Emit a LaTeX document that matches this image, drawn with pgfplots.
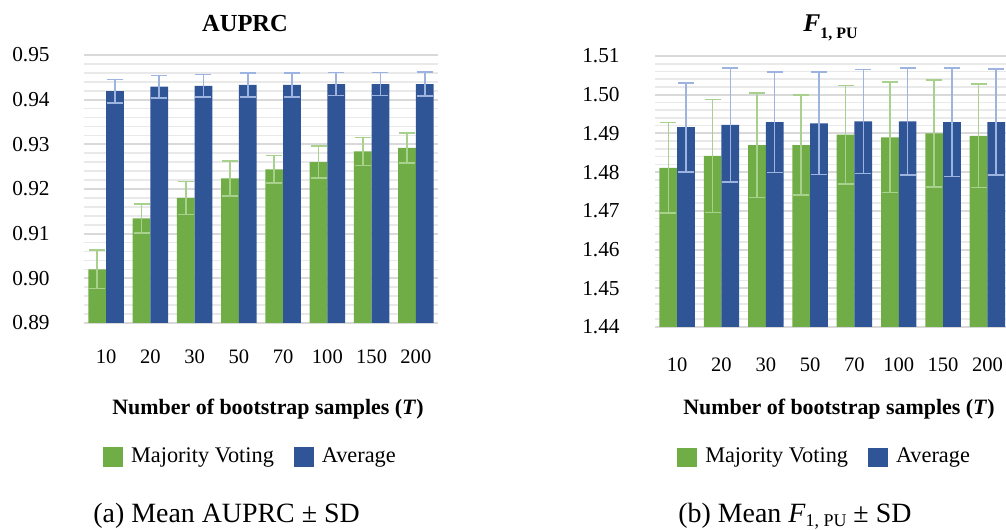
\documentclass[border=0pt]{standalone}
\usepackage{fontspec}
\setmainfont{Liberation Serif}
\usepackage{pgfplots}
\pgfplotsset{compat=1.18}

\definecolor{mvgreen}{HTML}{70AD47}
\definecolor{avblue}{HTML}{2F5597}
\definecolor{errgreen}{HTML}{A9D18E}
\definecolor{errblue}{HTML}{9DB3E0}
\definecolor{gridmajor}{HTML}{D9D9D9}
\definecolor{gridminor}{HTML}{E9E9E9}

\pgfplotsset{
  bootstrap/.style={
    ybar, scale only axis,
    xmin=-0.5,
    xtick={0,...,7},
    xticklabels={10,20,30,50,70,100,150,200},
    axis line style={draw=none},
    major tick length=0pt, minor tick length=0pt,
    ymajorgrids, yminorgrids, minor y tick num=4,
    major grid style={color=gridmajor, line width=1bp},
    minor grid style={color=gridminor, line width=0.8bp},
    /pgf/number format/.cd, fixed, fixed zerofill, precision=2, assume math mode=true,
    /pgfplots/.cd,
    yticklabel style={font=\fontsize{10.7}{12}\selectfont, anchor=east, inner sep=0pt},
    xticklabel style={font=\fontsize{10.3}{12}\selectfont, anchor=north, inner sep=0pt},
    legend style={draw=none, fill=none, anchor=center, inner sep=0pt,
      font=\fontsize{11.2}{13}\selectfont,
      /tikz/every odd column/.append style={column sep=2bp},
      /tikz/every even column/.append style={column sep=8bp}},
    legend columns=2,
  },
  mvbar/.style={fill=mvgreen, draw=none, bar width=0.4, bar shift=-0.2,
    error bars/.cd, y dir=both, y explicit,
    error bar style={color=errgreen, line width=0.8bp},
    error mark options={rotate=90, color=errgreen, line width=0.8bp, mark size=4bp},
    /pgfplots/.cd,
    legend image code/.code={\fill[mvgreen] (0bp,-4.75bp) rectangle (10bp,4.75bp);}},
  avbar/.style={fill=avblue, draw=none, bar width=0.4, bar shift=0.2,
    error bars/.cd, y dir=both, y explicit,
    error bar style={color=errblue, line width=0.8bp},
    error mark options={rotate=90, color=errblue, line width=0.8bp, mark size=4bp},
    /pgfplots/.cd,
    legend image code/.code={\fill[avblue] (0bp,-4.75bp) rectangle (10bp,4.75bp);}},
}

\begin{document}
\begin{tikzpicture}
\path[use as bounding box] (0bp,0bp) rectangle (503bp,265bp);

% (a) AUPRC
\begin{axis}[bootstrap,
  at={(42bp,103.5bp)}, anchor=south west,
  width=177bp, height=134bp,
  xmax=7.5,
  ymin=0.89, ymax=0.95,
  ytick={0.89,0.90,0.91,0.92,0.93,0.94,0.95},
  yticklabel style={xshift=-17bp},
  xticklabel style={yshift=-13bp},
  legend style={at={(0.473,-0.5)}},
]
\addplot[mvbar] coordinates {
  (0,0.9020) +- (0,0.0043)
  (1,0.9134) +- (0,0.0032)
  (2,0.9180) +- (0,0.0037)
  (3,0.9224) +- (0,0.0039)
  (4,0.9244) +- (0,0.0031)
  (5,0.9260) +- (0,0.0036)
  (6,0.9284) +- (0,0.0031)
  (7,0.9292) +- (0,0.0034)
};
\addplot[avbar] coordinates {
  (0,0.9419) +- (0,0.0026)
  (1,0.9429) +- (0,0.0025)
  (2,0.9431) +- (0,0.0025)
  (3,0.9433) +- (0,0.0027)
  (4,0.9433) +- (0,0.0027)
  (5,0.9435) +- (0,0.0026)
  (6,0.9435) +- (0,0.0026)
  (7,0.9435) +- (0,0.0027)
};
\legend{Majority Voting, Average}
\end{axis}

% (b) F1,PU
\begin{axis}[bootstrap,
  at={(327.5bp,101.5bp)}, anchor=south west,
  width=175.5bp, height=135.5bp,
  xmax=7.42,
  ymin=1.44, ymax=1.51,
  ytick={1.44,1.45,1.46,1.47,1.48,1.49,1.50,1.51},
  yticklabel style={xshift=-17.5bp},
  xticklabel style={yshift=-15bp},
  legend style={at={(0.486,-0.48)}},
]
\addplot[mvbar] coordinates {
  (0,1.4811) +- (0,0.0117)
  (1,1.4842) +- (0,0.0146)
  (2,1.4870) +- (0,0.0135)
  (3,1.4870) +- (0,0.0129)
  (4,1.4897) +- (0,0.0127)
  (5,1.4890) +- (0,0.0143)
  (6,1.4900) +- (0,0.0138)
  (7,1.4894) +- (0,0.0134)
};
\addplot[avbar] coordinates {
  (0,1.4916) +- (0,0.0115)
  (1,1.4922) +- (0,0.0147)
  (2,1.4929) +- (0,0.0130)
  (3,1.4926) +- (0,0.0132)
  (4,1.4931) +- (0,0.0134)
  (5,1.4931) +- (0,0.0138)
  (6,1.4929) +- (0,0.0140)
  (7,1.4929) +- (0,0.0137)
};
\legend{Majority Voting, Average}
\end{axis}

% chart titles
\node[anchor=base, inner sep=0pt, font=\fontsize{12.3}{14}\selectfont\bfseries] at (122.5bp,249bp) {AUPRC};
\node[anchor=base west, inner sep=0pt] at (401.5bp,249bp)
  {{\fontsize{12.8}{14}\selectfont\bfseries\itshape F}\raisebox{-3.5bp}{\fontsize{8}{9}\selectfont\bfseries 1, PU}};

% x-axis titles
\node[anchor=base, inner sep=0pt, font=\fontsize{11}{13}\selectfont\bfseries] at (134bp,57.5bp)
  {Number of bootstrap samples (\textit{T})};
\node[anchor=base, inner sep=0pt, font=\fontsize{11}{13}\selectfont\bfseries] at (419.5bp,57.5bp)
  {Number of bootstrap samples (\textit{T})};

% sub-figure captions
\node[anchor=base west, inner sep=0pt, font=\fontsize{14}{16}\selectfont] at (46.5bp,4bp)
  {(a) Mean AUPRC ± SD};
\node[anchor=base west, inner sep=0pt, font=\fontsize{14}{16}\selectfont] at (339bp,4bp)
  {(b) Mean \textit{F}\raisebox{-2.3bp}{\fontsize{9}{10}\selectfont 1, PU} ± SD};
\end{tikzpicture}
\end{document}
